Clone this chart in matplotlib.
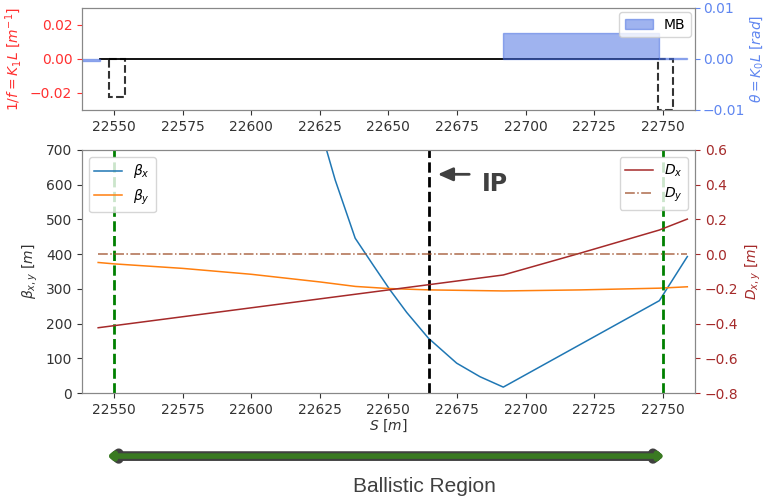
import matplotlib
matplotlib.use("Agg")
import matplotlib.pyplot as plt
from matplotlib.patches import FancyArrowPatch

# optics along s
s_betx = [22626.0, 22630.6, 22637.9, 22644.5, 22650.6, 22656.7, 22664.6,
          22674.9, 22683.4, 22691.9, 22748.8, 22759.0]
betx = [740, 614, 446, 368, 297, 232, 158, 86, 47, 17, 266, 393]

s_bety = [22544.2, 22550, 22575, 22600, 22625, 22638, 22650, 22665, 22692, 22720, 22748.8, 22759.0]
bety = [376, 372, 359, 342, 320, 307, 301, 297, 294, 297, 302, 306]

s_disp = [22544.2, 22691.9, 22718.7, 22748.8, 22759.0]
dx = [-0.424, -0.120, 0.0, 0.139, 0.202]
dy = [0.0, 0.0, 0.0, 0.0, 0.0]

# lattice elements
quad_line_s = [22544.9, 22748.3]
quad_line_k = [0.0, 0.0]
quad_start = [22548.3, 22748.2]
quad_len = [5.7, 5.5]
quad_k1l = [-0.0226, -0.0298]

bend_start = [22535.0, 22691.9, 22748.8]
bend_len = [9.9, 56.9, 10.2]
bend_angle = [-0.0003, 0.005, 0.0001]

s_ip = 22664.8
s_ballistic = [22550, 22750]

fig = plt.figure(figsize=(7.64, 4.99), dpi=100)
ax_top = fig.add_axes([0.1073, 0.7796, 0.8024, 0.2044])
ax_bot = fig.add_axes([0.1073, 0.2124, 0.8024, 0.487])

xlim = (22538.3, 22761.8)
grey = "#333333"
for a in (ax_top, ax_bot):
    for sp in a.spines.values():
        sp.set_color("#888888")
    a.tick_params(colors=grey, labelsize=10)

# top panel: magnet strengths
ax_top.plot(quad_line_s, quad_line_k, color="black", lw=1.3)
ax_top.bar(quad_start, quad_k1l, width=quad_len, align="edge", fill=False,
           edgecolor="#333333", linestyle="--", lw=1.5)
ax_top.set_ylim(-0.03, 0.03)
ax_top.set_yticks([-0.02, 0.0, 0.02])
ax_top.set_ylabel(r"$1/f=K_1L\ [m^{-1}]$", color="#ff3030", fontsize=10)
ax_top.tick_params(axis="y", colors="#ff3030")
ax_top.set_xlim(*xlim)

ax_th = ax_top.twinx()
ax_th.bar(bend_start, bend_angle, width=bend_len, align="edge",
          color="royalblue", alpha=0.5, edgecolor="royalblue", label="MB")
ax_th.set_ylim(-0.01, 0.01)
ax_th.set_yticks([-0.01, 0.0, 0.01])
ax_th.set_ylabel(r"$\theta=K_0L\ [rad]$", color="#5f86f0", fontsize=10, labelpad=2)
ax_th.tick_params(axis="y", colors="#5f86f0", labelsize=10, pad=2)
for sp in ax_th.spines.values():
    sp.set_color("#888888")
ax_th.set_xlim(*xlim)
h, l = ax_th.get_legend_handles_labels()
ax_th.legend(h[:1], l[:1], loc="upper right", fontsize=10, borderaxespad=0.3)

# bottom panel: beta functions
ax_bot.plot(s_betx, betx, color="C0", lw=1.1, label=r"$\beta_x$")
ax_bot.plot(s_bety, bety, color="C1", lw=1.1, label=r"$\beta_y$")
for s in s_ballistic:
    ax_bot.axvline(s, color="green", ls="--", lw=2)
ax_bot.axvline(s_ip, color="black", ls="--", lw=2)
ax_bot.set_xlim(*xlim)
ax_bot.set_ylim(0, 700)
ax_bot.set_xlabel(r"$S\ [m]$", color=grey, fontsize=10, labelpad=1)
ax_bot.set_ylabel(r"$\beta_{x,y}\ [m]$", color=grey, fontsize=10)
ax_bot.legend(loc="upper left", fontsize=10)
ax_bot.annotate("", xy=(22667.0, 630), xytext=(22680.5, 630),
                arrowprops=dict(arrowstyle="-|>,head_length=0.9,head_width=0.4",
                                color="#404040", lw=2))
ax_bot.text(22684.0, 603, "IP", fontsize=17, fontweight="bold", color="#404040",
            va="center", ha="left")

# dispersion on the right axis
ax_d = ax_bot.twinx()
ax_d.plot(s_disp, dx, color="brown", lw=1.1, label=r"$D_x$")
ax_d.plot(s_disp, dy, color="sienna", lw=1.1, ls="-.", alpha=0.85, label=r"$D_y$")
ax_d.set_ylim(-0.8, 0.6)
ax_d.set_ylabel(r"$D_{x,y}\ [m]$", color="brown", fontsize=10)
ax_d.tick_params(axis="y", colors="brown", labelsize=10)
for sp in ax_d.spines.values():
    sp.set_color("#888888")
ax_d.legend(loc="upper right", fontsize=10)

# ballistic region marker
for lw, col in ((7, "#404040"), (4, "#3a7a22")):
    fig.patches.append(FancyArrowPatch(
        (0.137, 0.086), (0.873, 0.086), transform=fig.transFigure,
        arrowstyle="<|-|>,head_length=0.25,head_width=0.2",
        mutation_scale=10, color=col, lw=lw))
fig.text(0.556, 0.026, "Ballistic Region", fontsize=15, color="#404040",
         ha="center", va="center", family="Liberation Sans")

fig.savefig("out.png", dpi=100)
